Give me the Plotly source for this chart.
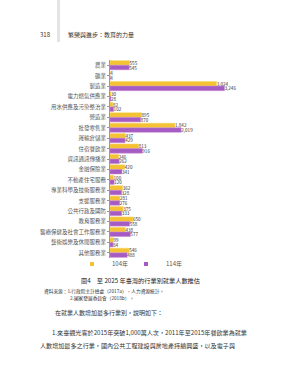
import plotly.graph_objects as go

categories = ["農業", "礦業", "製造業", "電力燃氣供應業", "用水供應及污染整治業", "營造業",
              "批發零售業", "運輸倉儲業", "住宿餐飲業", "資訊通訊傳播業", "金融保險業",
              "不動產住宅服務", "專業科學及技術服務業", "支援服務業", "公共行政及國防",
              "教育服務業", "醫療保健及社會工作服務業", "藝術娛樂及休閒服務業", "其他服務業"]
v104 = [555, 4, 3024, 30, 82, 895, 1842, 437, 813, 246, 420, 100, 362, 281, 375, 650, 438, 99, 546]
v114 = [545, 4, 3246, 28, 102, 870, 2019, 429, 916, 262, 341, 120, 328, 276, 333, 558, 577, 84, 488]
series_names = ["104年", "114年"]

FONT = "Noto Sans CJK TC"
fig = go.Figure()
for name, vals, col, line, lg in [(series_names[0], v104, "#F4C233", "#F7D86A", "legend"),
                                  (series_names[1], v114, "#A45CC4", "#D08ACF", "legend2")]:
    fig.add_trace(go.Bar(
        y=categories, x=vals, name=name, orientation="h", showlegend=False,
        marker=dict(color=col, line=dict(color=line, width=0.5)),
        texttemplate="%{x:,}", textposition="outside", cliponaxis=False,
        constraintext="none",
        textfont=dict(size=4.6, color="#333", family=FONT),
    ))
    fig.add_trace(go.Scatter(
        x=[None], y=[None], mode="markers", name=name, legend=lg,
        marker=dict(symbol="square", size=4, color=col),
    ))

leg = dict(orientation="h", xanchor="left", y=(258 - 264) / 198, yanchor="middle",
           font=dict(size=6, color="#555"), itemwidth=30, bgcolor="rgba(0,0,0,0)")
fig.update_layout(
    width=283, height=380,
    margin=dict(l=110, r=39, t=60, b=122),
    paper_bgcolor="white", plot_bgcolor="white",
    barmode="group", bargap=0.12, bargroupgap=0,
    font=dict(family=FONT, size=5.5, color="#444"),
    showlegend=True,
    legend=dict(leg, x=(72 - 110) / 134),
    legend2=dict(leg, x=(126 - 110) / 134),
)
fig.update_xaxes(range=[0, 3800], visible=False)
fig.update_yaxes(categoryorder="array", categoryarray=categories, autorange="reversed",
                 showline=True, linecolor="#999", linewidth=0.8,
                 ticks="outside", ticklen=2, tickcolor="#999",
                 tickfont=dict(size=5.5, color="#555"))

# page elements
fig.add_shape(type="rect", xref="paper", yref="paper",
              x0=(57 - 110) / 134, x1=(60 - 110) / 134,
              y0=(258 - 0) / 198, y1=(258 - 42) / 198,
              line_width=0, fillcolor="#e4e4e4")

def ann(x_px, y_px, text, size, anchor="left", color="#333"):
    fig.add_annotation(xref="paper", yref="paper",
                       x=(x_px - 110) / 134, y=(258 - y_px) / 198,
                       text=text, showarrow=False, xanchor=anchor, yanchor="middle",
                       font=dict(size=size, color=color, family=FONT))

ann(45, 34, "318", 6, "center")
ann(66, 34, "繁榮與進步：教育的力量", 6)
ann(140, 280, "圖4　至 2025 年臺灣的行業別就業人數推估", 6.2, "center", "#222")
ann(42, 291, "資料來源：1.行政院主計總處（2017a），人力資源統計。", 4.7)
ann(68, 298, "2.國家發展委員會（2018b）。", 4.7)
ann(53, 312, "在就業人數增加最多行業別，說明如下：", 6)
ann(50, 332, "1.來臺觀光客於2015年突破1,000萬人次，2011年至2015年餐飲業為就業", 6.1)
ann(38, 345, "人數增加最多之行業，國內公共工程建設與房地產持續興盛，以及電子與", 6.1)

fig.write_html("out.html")
